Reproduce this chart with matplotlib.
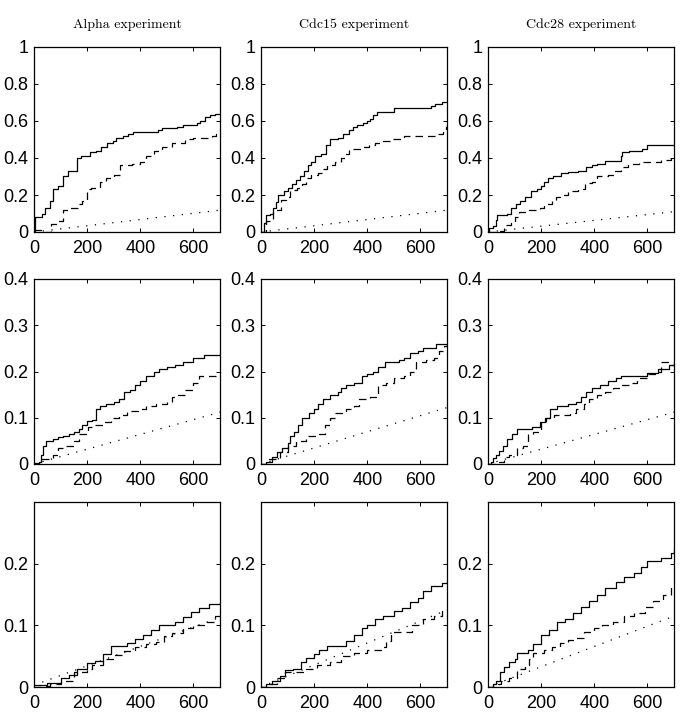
import matplotlib
matplotlib.use("Agg")
import matplotlib.pyplot as plt
from matplotlib.ticker import FuncFormatter

# ---------------- data ----------------
columns = ["Alpha experiment", "Cdc15 experiment", "Cdc28 experiment"]
row_ylims = [1.0, 0.4, 0.3]
row_yticks = [[0, 0.2, 0.4, 0.6, 0.8, 1.0], [0, 0.1, 0.2, 0.3, 0.4], [0, 0.1, 0.2]]
xticks = [0, 200, 400, 600]

# Row 1 -- Alpha
a1_sx = [0, 5, 30, 40, 60, 72, 90, 110, 128, 160, 178, 210, 235, 254, 273, 298, 310, 335, 354, 373, 468, 480, 537, 562, 612, 625, 643, 663, 681, 700]
a1_sy = [0, 0.08, 0.10, 0.13, 0.17, 0.23, 0.25, 0.30, 0.33, 0.40, 0.41, 0.43, 0.44, 0.46, 0.48, 0.49, 0.51, 0.52, 0.53, 0.54, 0.55, 0.56, 0.57, 0.58, 0.59, 0.60, 0.62, 0.63, 0.64, 0.64]
a1_dx = [0, 35, 65, 85, 110, 130, 165, 180, 200, 215, 250, 270, 300, 325, 370, 400, 420, 450, 480, 520, 570, 600, 670, 685, 700]
a1_dy = [0.01, 0.0, 0.045, 0.06, 0.12, 0.13, 0.15, 0.17, 0.23, 0.24, 0.27, 0.29, 0.31, 0.36, 0.37, 0.38, 0.41, 0.44, 0.46, 0.48, 0.50, 0.51, 0.52, 0.53, 0.53]
a1_px = [0, 700]
a1_py = [0, 0.118]

# Row 1 -- Cdc15
c1_sx = [0, 10, 20, 35, 45, 55, 65, 85, 100, 115, 130, 145, 160, 175, 190, 205, 225, 245, 260, 290, 310, 330, 345, 360, 385, 400, 410, 420, 435, 500, 640, 655, 680, 700]
c1_sy = [0, 0.05, 0.09, 0.10, 0.13, 0.16, 0.20, 0.22, 0.24, 0.26, 0.28, 0.30, 0.33, 0.36, 0.38, 0.41, 0.42, 0.47, 0.50, 0.51, 0.53, 0.55, 0.57, 0.58, 0.59, 0.60, 0.61, 0.63, 0.65, 0.67, 0.68, 0.69, 0.70, 0.70]
c1_dx = [0, 20, 45, 75, 95, 110, 135, 155, 170, 190, 215, 235, 250, 280, 300, 315, 330, 380, 405, 430, 455, 490, 540, 660, 685, 695, 700]
c1_dy = [0, 0.06, 0.12, 0.175, 0.19, 0.225, 0.24, 0.26, 0.29, 0.31, 0.32, 0.34, 0.36, 0.38, 0.40, 0.42, 0.45, 0.46, 0.47, 0.48, 0.49, 0.50, 0.52, 0.53, 0.55, 0.57, 0.58]
c1_px = [0, 700]
c1_py = [0, 0.118]

# Row 1 -- Cdc28
d1_sx = [0, 5, 20, 30, 35, 70, 85, 105, 120, 140, 160, 185, 200, 210, 225, 245, 275, 300, 340, 370, 390, 410, 440, 500, 505, 530, 580, 600, 700]
d1_sy = [0, 0.02, 0.03, 0.065, 0.09, 0.10, 0.13, 0.15, 0.165, 0.19, 0.22, 0.23, 0.25, 0.27, 0.29, 0.30, 0.32, 0.325, 0.33, 0.35, 0.36, 0.37, 0.385, 0.41, 0.43, 0.44, 0.45, 0.47, 0.47]
d1_dx = [0, 40, 60, 85, 100, 115, 150, 195, 210, 240, 255, 270, 300, 340, 365, 390, 410, 450, 475, 500, 525, 570, 650, 690, 700]
d1_dy = [0, 0.005, 0.04, 0.05, 0.08, 0.11, 0.12, 0.13, 0.15, 0.17, 0.19, 0.20, 0.22, 0.23, 0.265, 0.27, 0.30, 0.31, 0.33, 0.35, 0.37, 0.38, 0.39, 0.41, 0.41]
d1_px = [0, 700]
d1_py = [0, 0.11]

# Row 2 -- Alpha
a2_sx = [0, 20, 25, 35, 45, 70, 90, 110, 130, 150, 170, 180, 200, 220, 235, 250, 270, 300, 320, 340, 360, 380, 400, 420, 450, 470, 500, 530, 560, 600, 640, 700]
a2_sy = [0.002, 0.005, 0.02, 0.04, 0.05, 0.053, 0.058, 0.06, 0.065, 0.07, 0.075, 0.085, 0.092, 0.095, 0.12, 0.125, 0.13, 0.135, 0.14, 0.155, 0.16, 0.17, 0.18, 0.19, 0.20, 0.205, 0.21, 0.215, 0.22, 0.23, 0.235, 0.24]
a2_dx = [0, 25, 70, 90, 120, 150, 170, 205, 220, 260, 290, 320, 350, 390, 420, 460, 500, 520, 540, 570, 600, 620, 700]
a2_dy = [0, 0.01, 0.02, 0.035, 0.04, 0.05, 0.065, 0.08, 0.085, 0.09, 0.10, 0.105, 0.115, 0.12, 0.125, 0.13, 0.135, 0.145, 0.15, 0.16, 0.175, 0.19, 0.19]
a2_px = [0, 700]
a2_py = [0, 0.112]

# Row 2 -- Cdc15
c2_sx = [0, 20, 40, 60, 80, 100, 110, 125, 140, 155, 180, 200, 215, 235, 260, 290, 300, 320, 350, 380, 400, 420, 440, 465, 520, 540, 560, 590, 610, 660, 700]
c2_sy = [0, 0.005, 0.015, 0.025, 0.035, 0.045, 0.06, 0.07, 0.085, 0.10, 0.11, 0.12, 0.13, 0.14, 0.15, 0.155, 0.165, 0.17, 0.175, 0.19, 0.195, 0.20, 0.21, 0.22, 0.225, 0.23, 0.24, 0.245, 0.25, 0.26, 0.26]
c2_dx = [0, 30, 70, 100, 130, 170, 220, 240, 260, 280, 320, 350, 370, 410, 440, 470, 500, 540, 560, 585, 620, 650, 670, 690, 700]
c2_dy = [0, 0.01, 0.025, 0.04, 0.05, 0.06, 0.065, 0.085, 0.10, 0.11, 0.12, 0.125, 0.14, 0.145, 0.17, 0.175, 0.185, 0.19, 0.20, 0.22, 0.225, 0.23, 0.245, 0.255, 0.26]
c2_px = [0, 700]
c2_py = [0, 0.122]

# Row 2 -- Cdc28
d2_sx = [0, 10, 20, 30, 40, 55, 70, 90, 110, 165, 195, 215, 235, 260, 300, 330, 350, 370, 390, 420, 450, 480, 500, 600, 640, 680, 700]
d2_sy = [0, 0.005, 0.012, 0.02, 0.028, 0.04, 0.055, 0.065, 0.075, 0.08, 0.09, 0.10, 0.12, 0.125, 0.13, 0.135, 0.145, 0.155, 0.165, 0.17, 0.18, 0.185, 0.19, 0.197, 0.205, 0.215, 0.22]
d2_dx = [0, 30, 60, 80, 110, 130, 150, 170, 200, 220, 250, 310, 330, 360, 380, 410, 440, 470, 500, 530, 560, 600, 630, 650, 690, 700]
d2_dy = [0, 0.005, 0.015, 0.02, 0.035, 0.04, 0.065, 0.07, 0.09, 0.10, 0.105, 0.11, 0.12, 0.13, 0.14, 0.15, 0.155, 0.165, 0.17, 0.175, 0.185, 0.195, 0.20, 0.22, 0.215, 0.215]
d2_px = [0, 700]
d2_py = [0, 0.112]

# Row 3 -- Alpha
a3_sx = [0, 50, 100, 130, 160, 200, 230, 260, 290, 320, 350, 380, 410, 440, 470, 500, 530, 560, 590, 620, 660, 700]
a3_sy = [0.003, 0.006, 0.015, 0.02, 0.03, 0.039, 0.042, 0.054, 0.066, 0.067, 0.072, 0.078, 0.085, 0.092, 0.10, 0.10, 0.105, 0.113, 0.122, 0.128, 0.134, 0.137]
a3_dx = [0, 30, 60, 100, 150, 200, 220, 260, 300, 340, 380, 420, 460, 490, 520, 560, 600, 640, 680, 700]
a3_dy = [0, 0.002, 0.005, 0.01, 0.025, 0.03, 0.036, 0.045, 0.052, 0.058, 0.065, 0.07, 0.073, 0.082, 0.088, 0.095, 0.10, 0.105, 0.115, 0.12]
a3_px = [0, 700]
a3_py = [0.003, 0.113]

# Row 3 -- Cdc15
c3_sx = [0, 20, 40, 70, 90, 120, 150, 170, 200, 220, 250, 320, 350, 380, 400, 430, 460, 500, 530, 560, 590, 610, 640, 680, 700]
c3_sy = [0, 0.005, 0.01, 0.018, 0.028, 0.03, 0.04, 0.047, 0.053, 0.06, 0.067, 0.075, 0.085, 0.095, 0.10, 0.11, 0.115, 0.124, 0.128, 0.138, 0.145, 0.155, 0.163, 0.168, 0.172]
c3_dx = [0, 30, 60, 90, 150, 170, 210, 260, 300, 350, 400, 450, 470, 490, 530, 570, 610, 650, 680, 700]
c3_dy = [0, 0.005, 0.015, 0.025, 0.025, 0.03, 0.035, 0.04, 0.05, 0.055, 0.06, 0.065, 0.075, 0.09, 0.09, 0.10, 0.11, 0.115, 0.125, 0.127]
c3_px = [0, 700]
c3_py = [0, 0.125]

# Row 3 -- Cdc28
d3_sx = [0, 20, 30, 45, 60, 80, 100, 110, 150, 170, 200, 230, 260, 290, 320, 350, 380, 410, 440, 480, 510, 550, 575, 600, 650, 690, 700]
d3_sy = [0, 0.005, 0.01, 0.025, 0.032, 0.04, 0.045, 0.055, 0.06, 0.07, 0.085, 0.092, 0.105, 0.11, 0.12, 0.13, 0.14, 0.15, 0.16, 0.17, 0.178, 0.185, 0.195, 0.205, 0.21, 0.218, 0.223]
d3_dx = [0, 20, 50, 80, 110, 140, 155, 170, 210, 240, 270, 300, 330, 360, 400, 430, 470, 510, 550, 590, 620, 660, 690, 700]
d3_dy = [0, 0.005, 0.01, 0.015, 0.03, 0.035, 0.045, 0.055, 0.06, 0.065, 0.072, 0.077, 0.08, 0.09, 0.095, 0.10, 0.105, 0.115, 0.12, 0.13, 0.14, 0.15, 0.162, 0.163]
d3_px = [0, 700]
d3_py = [0, 0.115]

panels = [
    [(a1_sx, a1_sy, a1_dx, a1_dy, a1_px, a1_py), (c1_sx, c1_sy, c1_dx, c1_dy, c1_px, c1_py), (d1_sx, d1_sy, d1_dx, d1_dy, d1_px, d1_py)],
    [(a2_sx, a2_sy, a2_dx, a2_dy, a2_px, a2_py), (c2_sx, c2_sy, c2_dx, c2_dy, c2_px, c2_py), (d2_sx, d2_sy, d2_dx, d2_dy, d2_px, d2_py)],
    [(a3_sx, a3_sy, a3_dx, a3_dy, a3_px, a3_py), (c3_sx, c3_sy, c3_dx, c3_dy, c3_px, c3_py), (d3_sx, d3_sy, d3_dx, d3_dy, d3_px, d3_py)],
]

# ---------------- layout ----------------
W, H = 685, 716
fig = plt.figure(figsize=(W / 100, H / 100), dpi=100)
col_left = [34, 261, 488]
col_w = 186
row_bottom = [232, 464, 687]
row_h = 185

fmt = FuncFormatter(lambda v, p: ("%g" % round(v, 6)))

for r in range(3):
    for c in range(3):
        ax = fig.add_axes([col_left[c] / W, 1 - row_bottom[r] / H, col_w / W, row_h / H])
        sx, sy, dx, dy, px, py = panels[r][c]
        ax.plot(sx, sy, color="black", lw=0.9, drawstyle="steps-post")
        ax.plot(dx, dy, color="black", lw=0.9, drawstyle="steps-post", linestyle=(0, (6, 4)))
        ax.plot(px, py, color="black", lw=0.9, linestyle=(0, (1, 6)))
        ax.set_xlim(0, 700)
        ax.set_ylim(0, row_ylims[r])
        ax.set_xticks(xticks)
        ax.set_yticks(row_yticks[r])
        ax.xaxis.set_major_formatter(fmt)
        ax.yaxis.set_major_formatter(fmt)
        ax.tick_params(direction="in", length=3, width=0.7, top=True, right=True,
                       labelsize=13, colors="black")
        ax.tick_params(axis="x", pad=6)
        ax.tick_params(axis="y", pad=4)
        for sp in ax.spines.values():
            sp.set_linewidth(0.9)
        for lab in ax.get_xticklabels() + ax.get_yticklabels():
            lab.set_family(["Liberation Sans", "DejaVu Sans"])
        if r == 0:
            ax.set_title(columns[c], family=["cmr10", "DejaVu Serif"], fontsize=10, pad=14)

fig.savefig("out.png", dpi=100)
